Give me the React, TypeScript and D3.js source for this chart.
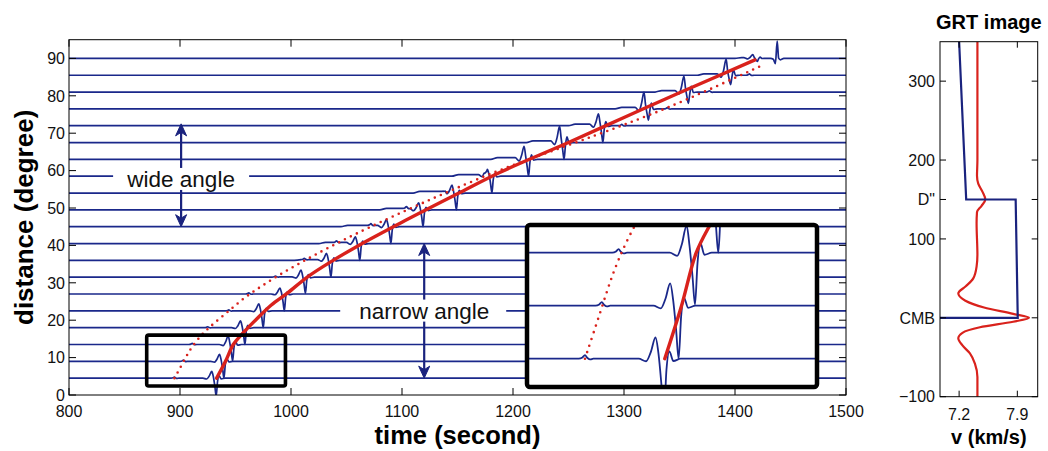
import React from "react";
import * as d3 from "d3";

// ---------------- data ----------------
const timeTicks = [800, 900, 1000, 1100, 1200, 1300, 1400, 1500];
const distTicks = [0, 10, 20, 30, 40, 50, 60, 70, 80, 90];

// seismogram traces (epicentral distance, deg)
const traceDist = [4.5, 9, 13.5, 18, 22.5, 27, 31.5, 36, 40.5, 45, 49.5, 54, 58.5, 63, 67.5, 72, 76.5, 81, 85.5, 90];
// time of the main trough (s)
const pulseTime = [932.6, 939.6, 947.4, 958.5, 975, 994, 1013, 1036, 1062, 1090, 1119, 1149, 1181, 1214, 1246, 1281, 1322, 1358, 1396, 1420];
// positive lobe (deg units)
const peakAmp = [1.8, 1.9, 2.3, 1.8, 1.9, 1.6, 1.9, 1.9, 1.8, 1.9, 1.9, 2.1, 1.9, 3.5, 4.4, 3.2, 4.5, 4.3, 4.3, 1.0];
// negative lobe (deg units)
const troughAmp = [4.8, 4.5, 4.4, 4.5, 4.5, 4.5, 4.3, 4.5, 4.5, 4.5, 4.5, 4.5, 4.5, 4.5, 4.5, 4.5, 3.0, 3.0, 2.5, 0.8];
// small precursor at the dotted curve
const precursorTime = [895, 903, 911, 925, 944, 962, 986, 1012, 1041, 1072, 1104, 1139, 1174, 1214, 1255, 1298, 1339, 1377, 1413, 1440];
const precursorAmp = [0.3, 0.3, 0.3, 0.25, 0.25, 0.3, 0.3, 0.35, 0.4, 0.45, 0.5, 0.5, 0.5, 0, 0, 0.35, 0.35, 0.35, 0.35, 0];
// slightly raised segment before the main arrival
const humpStart = [0, 0, 0, 0, 0, 0, 985, 1003, 1025, 1045, 1080, 1110, 1145, 1180, 1212, 1250, 1292, 1328, 1366, 1400];
const humpAmp = [0, 0, 0, 0, 0, 0, 0.1, 0.2, 0.3, 0.35, 0.4, 0.45, 0.45, 0.45, 0.45, 0.4, 0.4, 0.4, 0.35, 0.2];
// late extra spike
const extraTrace = [19];
const extraTime = [1438];
const extraAmp = [4.6];

// wavelet shapes (time relative to trough, s)
const mainTplT = [-12, -8.5, -6.3, -4, -2.6, -1.2, 0, 1.2, 2.6, 4.5, 8];
const mainTplUp = [0, -0.12, 0.3, 1.0, 0.25, 0, 0, 0, 0.35, 0, 0];
const mainTplDown = [0, 0, 0, 0, 0, 0.45, 1.0, 0.2, 0, 0.04, 0];
const precTplT = [-3, -1.2, 0, 1.2, 2.5, 4];
const precTplV = [0, 0.35, 1, 0.2, -0.2, 0];
const spikeTplT = [-6, -3.5, -1.6, 0, 1.3, 3, 6];
const spikeTplV = [0, -0.05, -0.3, 1, 0.02, -0.08, 0];

// red solid travel-time curve
const redTime = [933, 941, 948, 955, 968, 982, 997, 1015, 1038, 1061, 1100, 1150, 1188, 1250, 1300, 1350, 1418];
const redDist = [4.5, 9, 13.5, 16, 20, 24, 27.3, 31.6, 36, 40, 46.2, 53.8, 59.5, 67.5, 74.2, 80.8, 89.6];
// red dotted curve
const dotTime = [895, 903, 910, 923, 940, 957, 975, 993, 1012, 1031, 1056, 1102, 1142, 1188, 1250, 1300, 1350, 1425];
const dotDist = [4.5, 8.8, 12.8, 17.4, 21.4, 25.9, 29.4, 32.8, 35.9, 39, 42.8, 49.2, 54.4, 60.3, 66.8, 72.2, 78.0, 88.2];

// right panel: GRT image
const grtDepth = [350, 200, 180, 170, 160, 150, 142, 134, 120, 80, 65, 50, 40, 31, 22, 13, 5, 0, -5, -12, -19, -26, -35, -45, -58, -75, -100];
const grtV = [7.42, 7.42, 7.415, 7.43, 7.48, 7.515, 7.47, 7.415, 7.41, 7.42, 7.41, 7.37, 7.28, 7.19, 7.27, 7.5, 7.85, 8.04, 7.85, 7.45, 7.24, 7.19, 7.24, 7.33, 7.39, 7.42, 7.42];
const modelDepth = [350, 150, 150, 0, 0];
const modelV = [7.2, 7.285, 7.88, 7.905, 6.97];
const rightTickValues = [-100, 0, 100, 150, 200, 300];
const rightTickLabels = ["\u2212100", "CMB", "100", "D\"", "200", "300"];
const velTicks = [7.2, 7.9];

// ---------------- helpers ----------------
type P = [number, number];
const FONT = "'Liberation Sans', Arial, Helvetica, sans-serif";
const BLUE = "#1a288a";
const NAVY = "#1a237e";
const RED = "#d9221c";

function compVal(c: P[], t: number) {
  if (t < c[0][0] || t > c[c.length - 1][0]) return 0;
  for (let k = 0; k < c.length - 1; k++) {
    const [t0, v0] = c[k];
    const [t1, v1] = c[k + 1];
    if (t >= t0 && t <= t1) return t1 === t0 ? v0 : v0 + ((v1 - v0) * (t - t0)) / (t1 - t0);
  }
  return 0;
}

function buildTrace(i: number): P[] {
  const comps: P[][] = [];
  const tc = pulseTime[i];
  comps.push(mainTplT.map((dt, k) => [tc + dt, mainTplUp[k] * peakAmp[i] - mainTplDown[k] * troughAmp[i]] as P));
  if (precursorAmp[i] > 0)
    comps.push(precTplT.map((dt, k) => [precursorTime[i] + dt, precTplV[k] * precursorAmp[i]] as P));
  if (humpAmp[i] > 0) {
    const s = humpStart[i];
    const h = humpAmp[i];
    comps.push([[s, 0], [s + 6, h], [tc - 12, h], [tc - 9, 0]]);
  }
  extraTrace.forEach((ti, e) => {
    if (ti === i) comps.push(spikeTplT.map((dt, k) => [extraTime[e] + dt, spikeTplV[k] * extraAmp[e]] as P));
  });
  const ts: number[] = [800, 1500];
  comps.forEach((c) => c.forEach((p) => ts.push(p[0])));
  ts.sort((a, b) => a - b);
  const uniq: number[] = [];
  for (const t of ts) {
    if (uniq.length && t - uniq[uniq.length - 1] < 0.3) continue;
    uniq.push(t);
  }
  return uniq.map((t) => [t, traceDist[i] + comps.reduce((s, c) => s + compVal(c, t), 0)] as P);
}

// ---------------- component ----------------
export default function App() {
  const W = 1048, H = 451;
  const L = 69, R = 846, T = 39.7, B = 395;
  const x = d3.scaleLinear().domain([800, 1500]).range([L, R]);
  const y = d3.scaleLinear().domain([0, 95]).range([B, T]);

  const inset = { x0: 527, y0: 225, x1: 817, y1: 387 };
  const xi = d3.scaleLinear().domain([867.4, 1005.5]).range([inset.x0, inset.x1]);
  const yi = d3.scaleLinear().domain([2.1, 15.85]).range([inset.y1, inset.y0]);

  const rp = { x0: 940, x1: 1037.7, y0: 41.7, y1: 396.7 };
  const xr = d3.scaleLinear().domain([6.97, 8.145]).range([rp.x0, rp.x1]);
  const yr = d3.scaleLinear().domain([-100, 350]).range([rp.y1, rp.y0]);

  const traces = traceDist.map((_, i) => buildTrace(i));
  const lineMain = d3.line<P>().x((p) => x(p[0])).y((p) => y(p[1])).curve(d3.curveMonotoneX);
  const lineInset = d3.line<P>().x((p) => xi(p[0])).y((p) => yi(p[1])).curve(d3.curveMonotoneX);

  const redPts: P[] = redTime.map((t, i) => [t, redDist[i]]);
  const dotPts: P[] = dotTime.map((t, i) => [t, dotDist[i]]);
  const redLineMain = d3.line<P>().x((p) => x(p[0])).y((p) => y(p[1])).curve(d3.curveCatmullRom.alpha(0.5));
  const dotLineMain = d3.line<P>().x((p) => x(p[0])).y((p) => y(p[1])).curve(d3.curveBasis);
  const redLineInset = d3.line<P>().x((p) => xi(p[0])).y((p) => yi(p[1])).curve(d3.curveCatmullRom.alpha(0.5));
  const dotLineInset = d3.line<P>().x((p) => xi(p[0])).y((p) => yi(p[1])).curve(d3.curveBasis);

  const grtPts: P[] = grtDepth.map((d, i) => [grtV[i], d]);
  const modelPts: P[] = modelDepth.map((d, i) => [modelV[i], d]);
  const grtLine = d3.line<P>().x((p) => xr(p[0])).y((p) => yr(p[1])).curve(d3.curveMonotoneY);
  const modelLine = d3.line<P>().x((p) => xr(p[0])).y((p) => yr(p[1]));

  const arrow = (ax: number, yTop: number, yBot: number) => (
    <g>
      <line x1={ax} x2={ax} y1={yTop + 6} y2={yBot - 6} stroke={NAVY} strokeWidth={2.2} />
      <path d={`M${ax},${yTop} L${ax - 5.5},${yTop + 12} L${ax},${yTop + 8.5} L${ax + 5.5},${yTop + 12} Z`} fill={NAVY} stroke={NAVY} strokeWidth={1} strokeLinejoin="round" />
      <path d={`M${ax},${yBot} L${ax - 5.5},${yBot - 12} L${ax},${yBot - 8.5} L${ax + 5.5},${yBot - 12} Z`} fill={NAVY} stroke={NAVY} strokeWidth={1} strokeLinejoin="round" />
    </g>
  );

  const wideX = x(901), wideY = y(57.5);
  const narrowX = x(1120), narrowY = y(22.3);

  return (
    <svg width={W} height={H} style={{ position: "absolute", left: 0, top: 0, background: "#fff" }} fontFamily={FONT}>
      <defs>
        <clipPath id="mainClip">
          <rect x={L} y={T} width={R - L} height={B - T} />
        </clipPath>
        <clipPath id="insetClip">
          <rect x={inset.x0} y={inset.y0} width={inset.x1 - inset.x0} height={inset.y1 - inset.y0} />
        </clipPath>
        <clipPath id="rpClip">
          <rect x={rp.x0} y={rp.y0} width={rp.x1 - rp.x0} height={rp.y1 - rp.y0} />
        </clipPath>
      </defs>
      <rect x={0} y={0} width={W} height={H} fill="#fff" />

      {/* main traces */}
      <g clipPath="url(#mainClip)">
        {traces.map((tr, i) => (
          <path key={i} d={lineMain(tr) || ""} fill="none" stroke={BLUE} strokeWidth={1.7} strokeLinejoin="round" />
        ))}
        <path d={dotLineMain(dotPts) || ""} fill="none" stroke={RED} strokeWidth={2.6} strokeLinecap="round" strokeDasharray="0 6.6" />
        <path d={redLineMain(redPts) || ""} fill="none" stroke={RED} strokeWidth={3.4} strokeLinecap="round" />
      </g>

      {/* annotations */}
      {arrow(wideX, y(72.5), y(45))}
      {arrow(narrowX, y(40.5), y(4.5))}
      <rect x={wideX - 68} y={wideY - 12} width={136} height={22} fill="#fff" />
      <text x={wideX} y={wideY + 7.5} fontSize={22.5} textAnchor="middle" fill="#111">wide angle</text>
      <rect x={narrowX - 84} y={narrowY - 12} width={166} height={22} fill="#fff" />
      <text x={narrowX} y={narrowY + 7.5} fontSize={22.5} textAnchor="middle" fill="#111">narrow angle</text>

      {/* small box */}
      <rect x={x(870)} y={y(16)} width={x(995) - x(870)} height={y(2.4) - y(16)} fill="none" stroke="#000" strokeWidth={3.6} rx={2} />

      {/* inset */}
      <rect x={inset.x0} y={inset.y0} width={inset.x1 - inset.x0} height={inset.y1 - inset.y0} fill="#fff" />
      <g clipPath="url(#insetClip)">
        {traces.slice(0, 5).map((tr, i) => (
          <path key={i} d={lineInset(tr) || ""} fill="none" stroke={BLUE} strokeWidth={1.8} strokeLinejoin="round" />
        ))}
        <path d={dotLineInset(dotPts) || ""} fill="none" stroke={RED} strokeWidth={2.6} strokeLinecap="round" strokeDasharray="0 7" />
        <path d={redLineInset(redPts) || ""} fill="none" stroke={RED} strokeWidth={3.4} strokeLinecap="round" />
      </g>
      <rect x={inset.x0} y={inset.y0} width={inset.x1 - inset.x0} height={inset.y1 - inset.y0} fill="none" stroke="#000" strokeWidth={4.5} rx={3} />

      {/* main frame */}
      <rect x={L} y={T} width={R - L} height={B - T} fill="none" stroke="#000" strokeWidth={1} />
      {timeTicks.map((t) => (
        <g key={t}>
          <line x1={x(t)} x2={x(t)} y1={B} y2={B - 7} stroke="#000" strokeWidth={1} />
          <line x1={x(t)} x2={x(t)} y1={T} y2={T + 7} stroke="#000" strokeWidth={1} />
          <text x={x(t)} y={417} fontSize={16} textAnchor="middle" fill="#111">{t}</text>
        </g>
      ))}
      {distTicks.map((d) => (
        <g key={d}>
          <line x1={L} x2={L + 7} y1={y(d)} y2={y(d)} stroke="#000" strokeWidth={1} />
          <line x1={R} x2={R - 7} y1={y(d)} y2={y(d)} stroke="#000" strokeWidth={1} />
          <text x={65} y={y(d) + 5.7} fontSize={16} textAnchor="end" fill="#111">{d}</text>
        </g>
      ))}
      <text x={(L + R) / 2} y={444} fontSize={25.5} fontWeight="bold" textAnchor="middle" fill="#000">time (second)</text>
      <text transform={`translate(33,${(T + B) / 2}) rotate(-90)`} fontSize={26} fontWeight="bold" textAnchor="middle" fill="#000">distance (degree)</text>

      {/* right panel */}
      <text x={(rp.x0 + rp.x1) / 2} y={28.5} fontSize={20} fontWeight="bold" textAnchor="middle" fill="#000">GRT image</text>
      <g clipPath="url(#rpClip)">
        <path d={grtLine(grtPts) || ""} fill="none" stroke={RED} strokeWidth={2.2} />
        <path d={modelLine(modelPts) || ""} fill="none" stroke={NAVY} strokeWidth={2.2} />
      </g>
      <rect x={rp.x0} y={rp.y0} width={rp.x1 - rp.x0} height={rp.y1 - rp.y0} fill="none" stroke="#000" strokeWidth={1} />
      {rightTickValues.map((v, i) => (
        <g key={v}>
          <line x1={rp.x0} x2={rp.x0 + 6} y1={yr(v)} y2={yr(v)} stroke="#000" strokeWidth={1} />
          <line x1={rp.x1} x2={rp.x1 - 6} y1={yr(v)} y2={yr(v)} stroke="#000" strokeWidth={1} />
          <text x={935} y={yr(v) + 5.7} fontSize={16} textAnchor="end" fill="#111">{rightTickLabels[i]}</text>
        </g>
      ))}
      {velTicks.map((v) => (
        <g key={v}>
          <line x1={xr(v)} x2={xr(v)} y1={rp.y1} y2={rp.y1 - 6} stroke="#000" strokeWidth={1} />
          <line x1={xr(v)} x2={xr(v)} y1={rp.y0} y2={rp.y0 + 6} stroke="#000" strokeWidth={1} />
          <text x={xr(v)} y={420} fontSize={16} textAnchor="middle" fill="#111">{v.toFixed(1)}</text>
        </g>
      ))}
      <text x={(rp.x0 + rp.x1) / 2} y={444} fontSize={20} fontWeight="bold" textAnchor="middle" fill="#000">v (km/s)</text>
    </svg>
  );
}
